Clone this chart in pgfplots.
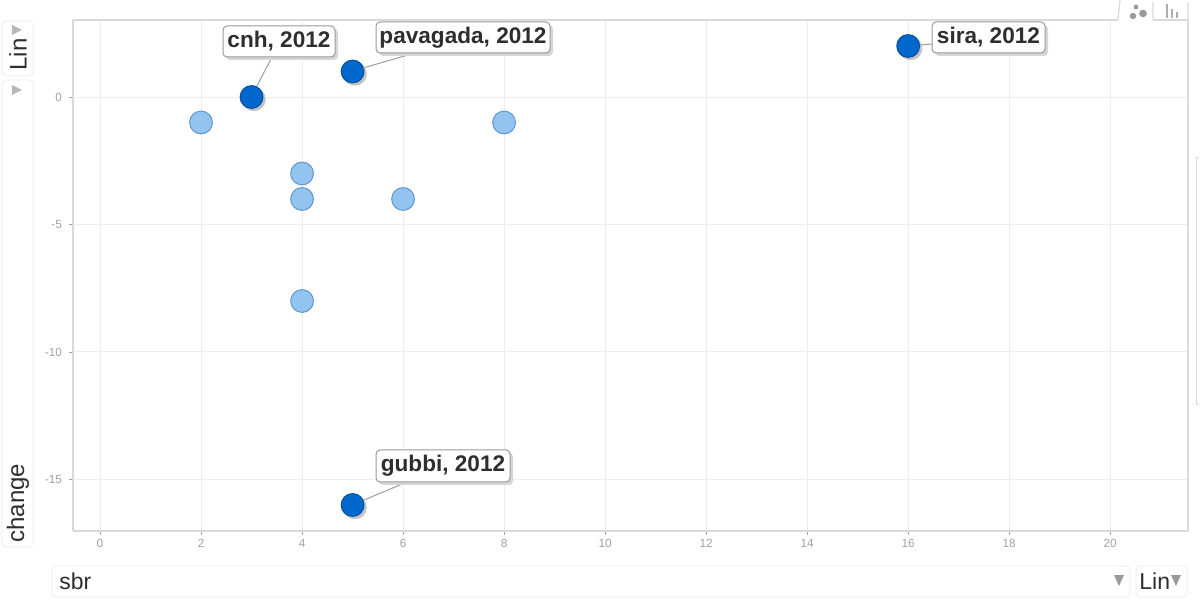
\documentclass[border=0pt]{standalone}
\usepackage{fontspec}
\setmainfont{Liberation Sans}
\usepackage{pgfplots}
\pgfplotsset{compat=1.18}
\definecolor{gridc}{HTML}{EDEDED}
\definecolor{framec}{HTML}{D9D9D9}
\definecolor{tickc}{HTML}{A0A0A0}
\definecolor{panelc}{HTML}{EFEFEF}
\definecolor{lightf}{HTML}{93C4EF}
\definecolor{lightd}{HTML}{5E97CF}
\definecolor{darkf}{HTML}{0068CC}
\definecolor{darkd}{HTML}{004F9E}
\definecolor{labelc}{HTML}{2E2E2E}
\definecolor{arrowc}{HTML}{9A9A9A}
\definecolor{shadowc}{HTML}{C4C4C4}
\begin{document}
\begin{tikzpicture}
\useasboundingbox (-36.5pt,-34.5pt) rectangle (563.5pt,265.5pt);
\begin{axis}[
  at={(0pt,0pt)}, anchor=south west,
  scale only axis, width=557.5pt, height=255.5pt,
  xmin=-0.535, xmax=21.54, ymin=-17.02, ymax=3.02,
  xtick={0,2,...,20}, ytick={-15,-10,-5,0},
  grid=major, grid style={gridc,line width=0.5pt},
  axis x line*=bottom, axis y line*=left,
  tick style={tickc,line width=0.4pt},
  tickwidth=2pt, tick align=outside,
  separate axis lines,
  x axis line style={framec,line width=0.9pt,-},
  y axis line style={framec,line width=0.9pt,-},
  tick label style={font=\fontsize{5.9}{6}\selectfont,text=tickc},
  x tick label style={yshift=1.2pt},
  /pgf/number format/assume math mode=true,
  clip=false,
]
\addplot[only marks,mark=*,mark size=5.7pt,
  mark options={fill=lightf,draw=lightd,line width=0.5pt}]
  coordinates {(2,-1)(8,-1)(4,-3)(4,-4)(6,-4)(4,-8)};
\addplot[only marks,mark=*,mark size=5.7pt,
  mark options={xshift=1.2pt,yshift=-1.2pt,fill=shadowc,draw=shadowc}]
  coordinates {(3,0)(5,1)(16,2)(5,-16)};
\addplot[only marks,mark=*,mark size=5.7pt,
  mark options={fill=darkf,draw=darkd,line width=0.5pt}]
  coordinates {(3,0)(5,1)(16,2)(5,-16)};
\end{axis}
\begin{scope}[shift={(-36.5pt,265.5pt)},x=0.5pt,y=-0.5pt]
  % frame top and right
  \draw[framec,line width=0.9pt] (73,20) -- (1118,20);
  \draw[framec,line width=0.9pt] (1188,20) -- (1188,531);
  % tabs
  \draw[framec,line width=0.6pt,fill=white] (1118,20) -- (1120,0) (1153,20) -- (1153,2) (1188,20)--(1188,2);
  \draw[framec,line width=0.6pt] (1153,20) -- (1188,20);
  \fill[arrowc] (1133,16) circle (3.2) (1143,13.5) circle (3.8) (1136,7) circle (2.4);
  \draw[arrowc!80,line width=0.6pt] (1167,18)--(1167,4) (1172,18)--(1172,9) (1177,18)--(1177,12);
  % right partial panel
  \draw[panelc!80!gray,line width=0.5pt] (1199,158) -- (1196,158) -- (1196,405) -- (1199,405);
  % left panels
  \draw[panelc,rounded corners=2pt,line width=0.5pt] (2,21) rectangle (33,76);
  \draw[panelc,rounded corners=2pt,line width=0.5pt] (2,80) rectangle (33,547);
  \fill[arrowc!70] (12,25) -- (22,30) -- (12,35) -- cycle;
  \fill[arrowc!70] (12,85) -- (22,90) -- (12,95) -- cycle;
  \node[rotate=90,text=labelc,font=\fontsize{12}{12}\selectfont,anchor=west,inner sep=0pt] at (18,71) {Lin};
  \node[rotate=90,text=labelc,font=\fontsize{12}{12}\selectfont,anchor=west,inner sep=0pt] at (18,543) {change};
  % bottom panels
  \draw[panelc,rounded corners=2pt,line width=0.5pt] (52,566) rectangle (1130,597);
  \draw[panelc,rounded corners=2pt,line width=0.5pt] (1136,566) rectangle (1187,597);
  \node[text=labelc,font=\fontsize{11.5}{12}\selectfont,anchor=west,inner sep=0pt] at (59,581) {sbr};
  \node[text=labelc,font=\fontsize{11.5}{12}\selectfont,anchor=west,inner sep=0pt] at (1139,581) {Lin};
  \fill[arrowc] (1114,575) -- (1124,575) -- (1119,586) -- cycle;
  \fill[arrowc] (1171,575) -- (1181,575) -- (1176,586) -- cycle;
  % leaders
  \draw[black!38,line width=0.5pt] (272,57) -- (257,86);
  \draw[black!38,line width=0.5pt] (415,53) -- (363,68);
  \draw[black!38,line width=0.5pt] (932,44) -- (920,45);
  \draw[black!38,line width=0.5pt] (407,482) -- (364,500);
  % callouts
  \def\callout#1#2#3#4#5{%
    \fill[black!16,rounded corners=2pt] (#1+3,#2+3) rectangle (#3+3,#4+3);
    \draw[black!40,fill=white,rounded corners=2pt,line width=0.5pt] (#1,#2) rectangle (#3,#4);
    \node[text=labelc,font=\bfseries\fontsize{11.3}{12}\selectfont,inner sep=0pt] at ({(#1+#3)/2},{(#2+#4)/2}) {#5};}
  \callout{223}{26}{335}{57}{cnh, 2012}
  \callout{376}{22}{550}{53}{pavagada, 2012}
  \callout{932}{22}{1045}{53}{sira, 2012}
  \callout{376}{450}{510}{482}{gubbi, 2012}
\end{scope}
\end{tikzpicture}
\end{document}
